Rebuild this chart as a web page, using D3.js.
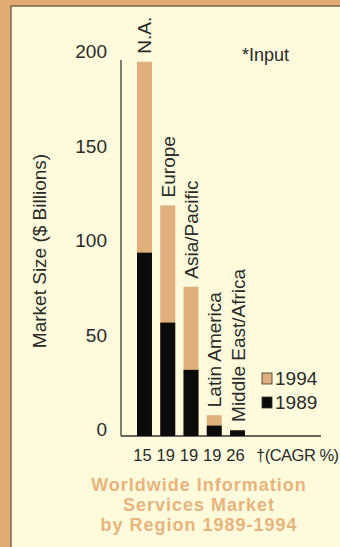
<!DOCTYPE html>
<html>
<head>
<meta charset="utf-8">
<script src="https://cdn.jsdelivr.net/npm/d3@7"></script>
<style>
  html, body { margin: 0; padding: 0; background: #e2ab73; }
  svg { display: block; }
  text { font-family: "Liberation Sans", Arial, Helvetica, sans-serif; }
</style>
</head>
<body>
<script>
// Market size by region, $ billions
const regions = ["N.A.", "Europe", "Asia/Pacific", "Latin America", "Middle East/Africa"];
const market1989 = [97, 60, 35, 5.5, 3];
const market1994 = [198, 122, 79, 11, 3.2];
const cagr = [15, 19, 19, 19, 26];
const yTicks = [0, 50, 100, 150, 200];
const titleLines = ["Worldwide Information", "Services Market", "by Region 1989-1994"];

const W = 340, H = 547;
const colors = { frame: "#e2ab73", panel: "#fdfbdc", tan: "#dfaf7e", dark: "#0b0b0b", title: "#e8b47c", ink: "#2a2a2a" };

const svg = d3.select("body").append("svg").attr("width", W).attr("height", H);

// outer frame and cream panel
svg.append("rect").attr("width", W).attr("height", H).attr("fill", colors.frame);
svg.append("rect").attr("x", 11).attr("y", 6).attr("width", W).attr("height", H)
  .attr("fill", colors.panel).attr("stroke", "#7a6450").attr("stroke-width", 1.5);

const y = d3.scaleLinear().domain([0, 200]).range([436, 58]);
const x = d3.scaleBand().domain(regions).range([137, 245]).paddingInner(0.356).paddingOuter(0);

// y axis: line plus numeric labels, no tick marks
const yAxis = d3.axisLeft(y).tickValues(yTicks).tickSize(0).tickPadding(14);
const yg = svg.append("g").attr("transform", "translate(121,0)").call(yAxis);
yg.select(".domain").attr("stroke", "#555").attr("stroke-width", 1.5).attr("d", `M0,${y(200) + 2}V${y(0)}`);
yg.selectAll(".tick text").attr("font-size", 19).attr("fill", colors.ink).attr("dy", "-0.02em")
  .style("font-family", "'Liberation Sans', Arial, sans-serif");

// baseline
svg.append("line").attr("x1", 121).attr("x2", 321).attr("y1", y(0)).attr("y2", y(0))
  .attr("stroke", "#333").attr("stroke-width", 1.5);

// axis title
svg.append("text")
  .attr("transform", `translate(46,${(y(0) + y(200)) / 2 + 4}) rotate(-90)`)
  .attr("text-anchor", "middle").attr("font-size", 19).attr("fill", colors.ink)
  .text("Market Size ($ Billions)");

const rows = regions.map((r, i) => ({ region: r, v89: market1989[i], v94: market1994[i], cagr: cagr[i] }));

// 1994 bars behind, 1989 bars in front
svg.append("g").selectAll("rect").data(rows).join("rect")
  .attr("x", d => x(d.region)).attr("width", x.bandwidth())
  .attr("y", d => y(d.v94)).attr("height", d => y(0) - y(d.v94))
  .attr("fill", colors.tan);
svg.append("g").selectAll("rect").data(rows).join("rect")
  .attr("x", d => x(d.region)).attr("width", x.bandwidth())
  .attr("y", d => y(d.v89)).attr("height", d => y(0) - y(d.v89))
  .attr("fill", colors.dark);

// region names, rotated, sitting above each bar
svg.append("g").selectAll("text").data(rows).join("text")
  .attr("transform", d => `translate(${x(d.region) + x.bandwidth() / 2 + 7},${y(d.v94) - 8}) rotate(-90)`)
  .attr("font-size", 19).attr("fill", colors.ink)
  .text(d => d.region);

// CAGR row
svg.append("g").selectAll("text").data(rows).join("text")
  .attr("x", d => x(d.region) + x.bandwidth() / 2 - 2).attr("y", 461)
  .attr("text-anchor", "middle").attr("font-size", 16.5).attr("fill", colors.ink)
  .text(d => d.cagr);
svg.append("text").attr("x", 256).attr("y", 461).attr("font-size", 16.5).attr("fill", colors.ink)
  .attr("letter-spacing", -0.5).text("†(CAGR %)");

// legend
const legend = [{ label: "1994", fill: colors.tan }, { label: "1989", fill: colors.dark }];
const lg = svg.append("g").selectAll("g").data(legend).join("g")
  .attr("transform", (d, i) => `translate(262,${373 + i * 24})`);
lg.append("rect").attr("width", 10).attr("height", 11).attr("fill", d => d.fill)
  .attr("stroke", "#333").attr("stroke-width", 0.8);
lg.append("text").attr("x", 13).attr("y", 12).attr("font-size", 19).attr("fill", colors.ink)
  .text(d => d.label);

// footnote
svg.append("text").attr("x", 242).attr("y", 61).attr("font-size", 18).attr("fill", colors.ink).text("*Input");

// title
svg.append("g").selectAll("text").data(titleLines).join("text")
  .attr("x", 199).attr("y", (d, i) => 491 + i * 20)
  .attr("text-anchor", "middle").attr("font-size", 18).attr("font-weight", "bold")
  .attr("letter-spacing", 1).attr("fill", colors.title)
  .text(d => d);
</script>
</body>
</html>
